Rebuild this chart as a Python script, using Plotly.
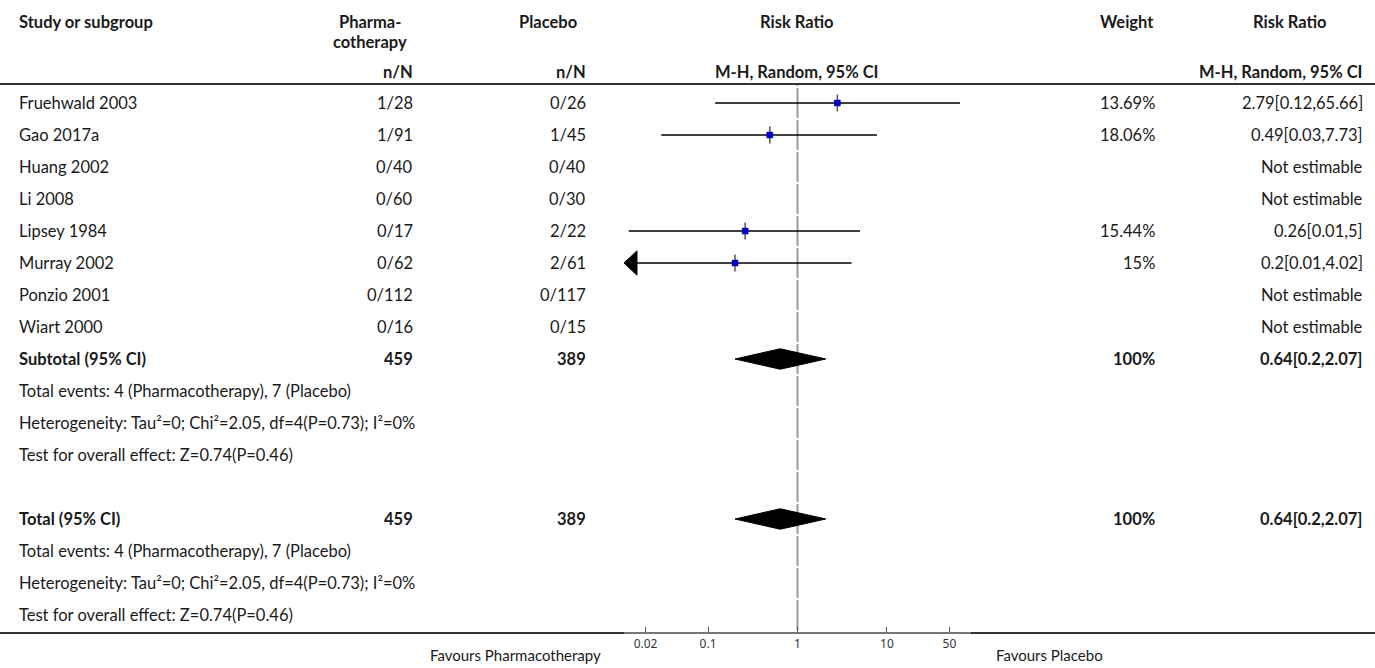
import plotly.graph_objects as go

# ---- data ----
studies = ["Fruehwald 2003", "Gao 2017a", "Huang 2002", "Li 2008",
           "Lipsey 1984", "Murray 2002", "Ponzio 2001", "Wiart 2000"]
pharm_events = [1, 1, 0, 0, 0, 0, 0, 0]
pharm_total = [28, 91, 40, 60, 17, 62, 112, 16]
placebo_events = [0, 1, 0, 0, 2, 2, 0, 0]
placebo_total = [26, 45, 40, 30, 22, 61, 117, 15]
rr = [2.79, 0.49, None, None, 0.26, 0.2, None, None]
rr_lo = [0.12, 0.03, None, None, 0.013, 0.0099, None, None]
rr_hi = [65.66, 7.73, None, None, 5, 4.02, None, None]
weights = [13.69, 18.06, None, None, 15.44, 15, None, None]

pooled_rr, pooled_lo, pooled_hi = 0.64, 0.2, 2.07
pooled_weight = 100
total_pharm, total_placebo = 459, 389
events_text = "Total events: 4 (Pharmacotherapy), 7 (Placebo)"
het_text = "Heterogeneity: Tau\u00b2=0; Chi\u00b2=2.05, df=4(P=0.73); I\u00b2=0%"
test_text = "Test for overall effect: Z=0.74(P=0.46)"

tick_vals = [0.02, 0.1, 1, 10, 50]
tick_text = ["0.02", "0.1", "1", "10", "50"]

# ---- layout geometry ----
W, H = 1375, 668
ROW0, ROWH = 103, 32          # pixel y of first study row, row height
AXIS_Y = 632                   # pixel y of forest x-axis
X_LOG_RANGE = [-1.94, 1.94]
FONT = "Lato"
TXT = "#1a1a1a"
BODY = 16.5


def row_of(py):
    return (py - ROW0) / ROWH


def fmt(v):
    return f"{round(v, 2):g}"


fig = go.Figure()
ann = []


def text(px, row, s, anchor="left", bold=False, size=BODY, yref="y"):
    ann.append(dict(
        x=px / W, xref="paper", y=row, yref=yref,
        text=f"<b>{s}</b>" if bold else s, showarrow=False,
        xanchor=anchor, yanchor="middle",
        font=dict(family=FONT, size=size, color=TXT)))


# header
text(17, row_of(22), "Study or subgroup", bold=True)
text(370, row_of(22), "Pharma-", "center", bold=True)
text(370, row_of(42), "cotherapy", "center", bold=True)
text(548, row_of(22), "Placebo", "center", bold=True)
text(797, row_of(22), "Risk Ratio", "center", bold=True)
text(1127, row_of(22), "Weight", "center", bold=True)
text(1290, row_of(22), "Risk Ratio", "center", bold=True)
text(415, row_of(72), "n/N", "right", bold=True)
text(588, row_of(72), "n/N", "right", bold=True)
text(797, row_of(72), "M-H, Random, 95% CI", "center", bold=True)
text(1365, row_of(72), "M-H, Random, 95% CI", "right", bold=True)

# study rows
for i, name in enumerate(studies):
    text(17, i, name)
    text(415, i, f"{pharm_events[i]}/{pharm_total[i]}", "right")
    text(588, i, f"{placebo_events[i]}/{placebo_total[i]}", "right")
    if rr[i] is None:
        text(1365, i, "Not estimable", "right")
    else:
        text(1157, i, f"{weights[i]:g}%", "right")
        text(1365, i, f"{fmt(rr[i])}[{fmt(rr_lo[i])},{fmt(rr_hi[i])}]", "right")

# subtotal and total blocks
blocks = [(8, "Subtotal (95% CI)"), (13, "Total (95% CI)")]
for r, label in blocks:
    text(17, r, label, bold=True)
    text(415, r, str(total_pharm), "right", bold=True)
    text(588, r, str(total_placebo), "right", bold=True)
    text(1157, r, f"{pooled_weight}%", "right", bold=True)
    text(1365, r, f"{fmt(pooled_rr)}[{fmt(pooled_lo)},{fmt(pooled_hi)}]", "right", bold=True)
    text(17, r + 1, events_text)
    text(17, r + 2, het_text)
    text(17, r + 3, test_text)

# favours labels
fav_y = (H - 655) / H
text(603, fav_y, "Favours Pharmacotherapy", "right", size=15, yref="paper")
text(994, fav_y, "Favours Placebo", "left", size=15, yref="paper")

# ---- line of no effect, drawn in short row segments ----
vx, vy = [], []
top = row_of(85)
bottom = row_of(AXIS_Y)
k = -0.5
vx += [1, 1, None]
vy += [top, k - 0.03, None]
while k < bottom:
    vx += [1, 1, None]
    vy += [k + 0.03, min(k + 0.97, bottom), None]
    k += 1
fig.add_trace(go.Scatter(x=vx, y=vy, mode="lines",
                         line=dict(color="#9a9a9a", width=2),
                         hoverinfo="skip", showlegend=False))

axis_min = 10 ** X_LOG_RANGE[0]
axis_max = 10 ** X_LOG_RANGE[1]

# ---- study confidence intervals and point estimates ----
for i in range(len(studies)):
    if rr[i] is None:
        continue
    lo = max(rr_lo[i], axis_min)
    hi = min(rr_hi[i], axis_max)
    fig.add_trace(go.Scatter(x=[lo, hi], y=[i, i], mode="lines",
                             line=dict(color="black", width=1.6),
                             hoverinfo="skip", showlegend=False))
    if rr_lo[i] < axis_min:
        tip = axis_min
        base = tip * 10 ** 0.145
        fig.add_trace(go.Scatter(x=[tip, base, base, tip], y=[i, i - 0.38, i + 0.38, i],
                                 mode="lines", fill="toself", fillcolor="black",
                                 line=dict(color="black", width=1),
                                 hoverinfo="skip", showlegend=False))
    fig.add_trace(go.Scatter(x=[rr[i]], y=[i], mode="markers",
                             marker=dict(symbol="line-ns", size=12,
                                         line=dict(color="#555555", width=1.5)),
                             hoverinfo="skip", showlegend=False))
    fig.add_trace(go.Scatter(x=[rr[i]], y=[i], mode="markers",
                             marker=dict(symbol="square", size=6, color="#0000cc",
                                         line=dict(color="#000088", width=0.5)),
                             hoverinfo="skip", showlegend=False))

# ---- pooled diamonds ----
for r, _ in blocks:
    fig.add_trace(go.Scatter(
        x=[pooled_lo, pooled_rr, pooled_hi, pooled_rr, pooled_lo],
        y=[r, r - 0.32, r, r + 0.32, r],
        mode="lines", fill="toself", fillcolor="black",
        line=dict(color="black", width=1),
        hoverinfo="skip", showlegend=False))

# ---- horizontal rules ----
shapes = [
    dict(type="line", xref="paper", yref="y", x0=0, x1=1,
         y0=row_of(84), y1=row_of(84), line=dict(color="#333333", width=2)),
    dict(type="line", xref="paper", yref="paper", x0=0, x1=624 / W,
         y0=(H - 633) / H, y1=(H - 633) / H, line=dict(color="#333333", width=2)),
    dict(type="line", xref="paper", yref="paper", x0=971 / W, x1=1,
         y0=(H - 633) / H, y1=(H - 633) / H, line=dict(color="#333333", width=2)),
]

fig.update_layout(
    width=W, height=H,
    margin=dict(l=0, r=0, t=0, b=0),
    paper_bgcolor="white", plot_bgcolor="white",
    showlegend=False,
    annotations=ann, shapes=shapes,
    xaxis=dict(type="log", range=X_LOG_RANGE,
               domain=[624 / W, 971 / W],
               showgrid=False, zeroline=False,
               showline=True, linecolor="#777777", linewidth=2,
               ticks="inside", ticklen=5, tickcolor="#555555", tickwidth=1,
               tickvals=tick_vals, ticktext=tick_text,
               tickfont=dict(family="Noto Sans", size=12, color="#333333"),
               fixedrange=True),
    yaxis=dict(range=[row_of(AXIS_Y), row_of(0)],
               domain=[(H - AXIS_Y) / H, 1],
               visible=False, fixedrange=True),
)

fig.write_html("out.html")
